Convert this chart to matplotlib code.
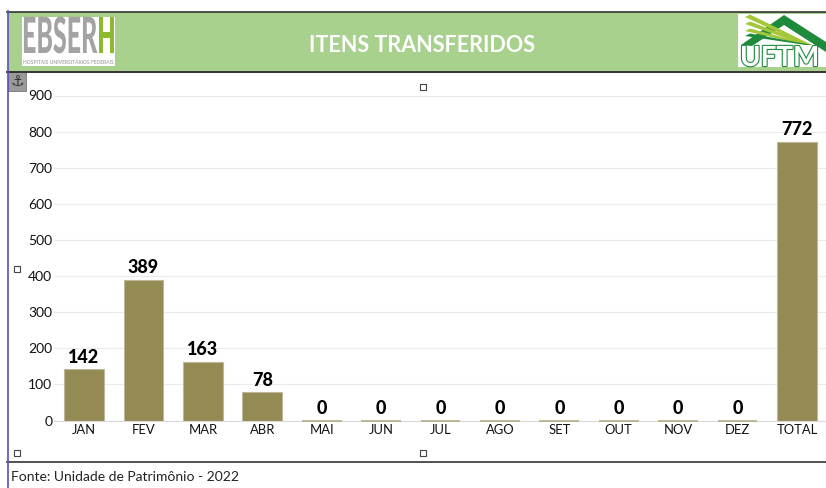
import matplotlib
matplotlib.use('Agg')
import matplotlib.pyplot as plt
import matplotlib.patheffects as pe
from matplotlib.patches import Rectangle, Polygon
from matplotlib.transforms import Affine2D

plt.rcParams['font.family'] = ['Lato', 'DejaVu Sans']

# Data
months = ['JAN', 'FEV', 'MAR', 'ABR', 'MAI', 'JUN', 'JUL', 'AGO', 'SET', 'OUT', 'NOV', 'DEZ', 'TOTAL']
items = [142, 389, 163, 78, 0, 0, 0, 0, 0, 0, 0, 0, 772]
y_ticks = [0, 100, 200, 300, 400, 500, 600, 700, 800, 900]


# The logo lettering is very narrow and no condensed font is installed,
# so stretch the glyphs when they are drawn
class Stretch(pe.AbstractPathEffect):
    def __init__(self, ky):
        super().__init__()
        self.ky = ky

    def draw_path(self, renderer, gc, tpath, affine, rgbFace=None):
        renderer.draw_path(gc, tpath, Affine2D().scale(1, self.ky) + affine, rgbFace)


W, H = 826, 488
fig = plt.figure(figsize=(W / 100, H / 100), dpi=100)

# Overlay in pixel coordinates for the header, logos and frame
bg = fig.add_axes([0, 0, 1, 1], zorder=0)
bg.set_xlim(0, W)
bg.set_ylim(H, 0)
bg.axis('off')

bg.add_patch(Rectangle((8, 12), 818, 59, fc='#A9D18E', ec='none'))
bg.plot([7, 826], [11.5, 11.5], color='#333333', lw=1.2)
bg.plot([7, 826], [71.5, 71.5], color='#333333', lw=1.4)
bg.plot([7, 826], [461.5, 461.5], color='#333333', lw=1.2)
bg.plot([7.5, 7.5], [11, 488], color='#5B4FB5', lw=1.2)

bg.text(422, 45, 'ITENS TRANSFERIDOS', color='white', fontsize=15.5, fontweight='bold',
        ha='center', va='center')
bg.text(11, 477, 'Fonte: Unidade de Patrimônio - 2022', color='#222222', fontsize=10,
        ha='left', va='center')

# EBSERH logo
bg.add_patch(Rectangle((21.5, 17), 93.5, 49, fc='white', ec='none'))
bg.text(22, 53, 'EBSER', color='#A3A3A3', fontsize=18, fontweight=900, ha='left', va='baseline',
        path_effects=[Stretch(2.0)])
bg.text(115.5, 53, 'H', color='#8DB92E', fontsize=16.5, fontweight=900, ha='right', va='baseline',
        path_effects=[Stretch(2.15)])
bg.text(68, 62.5, 'HOSPITAIS UNIVERSITÁRIOS FEDERAIS', color='#ABABAB', fontsize=3.6,
        fontweight='bold', ha='center', va='center')

# UFTM logo
bg.add_patch(Rectangle((738, 14), 88, 53, fc='white', ec='none'))
bg.add_patch(Polygon([(741, 45), (784, 15), (826, 42), (826, 52), (784, 25), (752, 46)],
                     fc='#1E8A3C', ec='none'))
for y0, col in [(17, '#A6C639'), (24, '#A6C639'), (31, '#A6C639'), (36, '#1E8A3C')]:
    bg.add_patch(Polygon([(745, y0), (750, y0 - 2.5), (812, 45), (806, 45)], fc=col, ec='none'))
bg.text(740, 66, 'UFTM', color='white', fontsize=20, fontweight='bold', ha='left', va='baseline',
        clip_on=True, path_effects=[pe.withStroke(linewidth=1.6, foreground='#1E8A3C')])

# Selection handles and anchor box from the spreadsheet
for hx, hy in [(423, 87), (17, 269), (17, 453), (423, 453)]:
    bg.add_patch(Rectangle((hx - 3, hy - 3), 6, 6, fc='white', ec='#444444', lw=0.8))
bg.add_patch(Rectangle((8, 72), 18, 19, fc='#9A9A9A', ec='#777777', lw=0.6))
bg.text(17, 82, '⚓', color='#333333', fontsize=11, family='DejaVu Sans', ha='center', va='center')

# Chart axes: 0 sits at y=420.5, 900 at y=95.5, first bar centred on x=84
ax = fig.add_axes([54.3 / W, 1 - 420.5 / H, (W + 0.7 - 54.3) / W, 325 / H], zorder=1)
ax.patch.set_alpha(0)
x = list(range(len(months)))
bar_width = 0.67
ax.bar(x, items, width=bar_width, color='#948A54', edgecolor='#BDB89A', linewidth=0.8, zorder=3)
for i, v in zip(x, items):
    ax.text(i, v + 10, str(v), ha='center', va='bottom', fontsize=13, fontweight=900, color='black')
    # zero-height bars still show as a thin tan line
    if v == 0:
        ax.hlines(v, i - bar_width / 2, i + bar_width / 2, color='#B5AE8A', lw=1.2, zorder=3, clip_on=False)

ax.set_xlim(-0.5, len(months) - 0.5)
ax.set_ylim(0, 900)
ax.set_xticks(x)
ax.set_xticklabels(months)
ax.set_yticks(y_ticks)
ax.tick_params(axis='both', length=0, labelcolor='#111111')
ax.tick_params(axis='x', pad=2.5, labelsize=9.4)
ax.tick_params(axis='y', pad=1.5, labelsize=10)
ax.grid(axis='y', color='#EBEBEB', lw=0.8, zorder=0)
ax.set_axisbelow(True)
for s in ['top', 'right', 'left']:
    ax.spines[s].set_visible(False)
ax.spines['bottom'].set_color('#D9D9D9')
ax.spines['bottom'].set_zorder(1)

fig.savefig('out.png', dpi=100)
